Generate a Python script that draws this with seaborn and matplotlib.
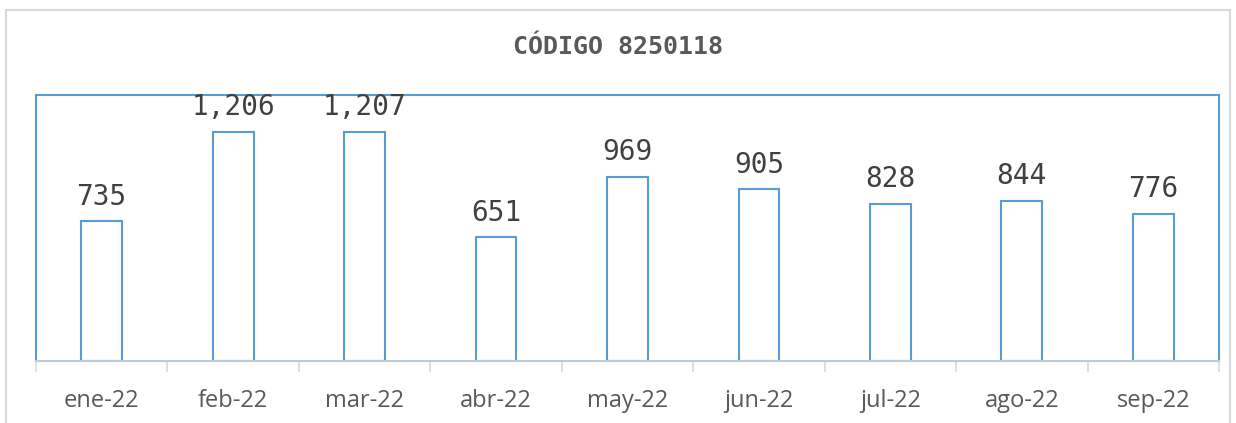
import matplotlib.pyplot as plt
import matplotlib.patches as mpatches
import numpy as np
import pandas as pd
import seaborn as sns

months = ["ene-22", "feb-22", "mar-22", "abr-22", "may-22",
          "jun-22", "jul-22", "ago-22", "sep-22"]
values = [735, 1206, 1207, 651, 969, 905, 828, 844, 776]
title = "CÓDIGO 8250118"

blue = "#5B9BD5"
text_gray = "#595959"

sns.set_style("white")
fig = plt.figure(figsize=(12.36, 4.23), dpi=100)
ax = fig.add_axes([36 / 1236, 1 - 361 / 423, (1219 - 36) / 1236, (361 - 95) / 423])

# outer chart border
fig.patches.append(mpatches.Rectangle((6 / 1236, -0.05), (1230 - 6) / 1236, 1 - 10 / 423 + 0.05,
                                      transform=fig.transFigure, fill=False,
                                      edgecolor="#D9D9D9", linewidth=1.5))

df = pd.DataFrame({"mes": months, "valor": values})
sns.barplot(data=df, x="mes", y="valor", color="white", edgecolor=blue,
            linewidth=1.5, width=0.31, ax=ax, saturation=1)

for i, v in enumerate(values):
    ax.text(i, v + 55, f"{v:,}", ha="center", va="bottom",
            fontsize=20, color="#404040", family="DejaVu Sans Mono")

ax.set_xlim(-0.5, len(months) - 0.5)
ax.set_ylim(0, 1400)
ax.set_yticks([])
ax.set_xlabel("")
ax.set_ylabel("")

ax.set_xticks(np.arange(len(months)))
ax.set_xticklabels(months, fontsize=17, color=text_gray, family="Open Sans")
ax.tick_params(axis="x", which="major", bottom=False, length=0, pad=20)
ax.set_xticks(np.arange(len(months) + 1) - 0.5, minor=True)
ax.tick_params(axis="x", which="minor", bottom=True, length=8, width=1.2,
               color="#D9D9D9")

for s in ["left", "right", "top"]:
    ax.spines[s].set_color(blue)
    ax.spines[s].set_linewidth(1.5)
ax.spines["bottom"].set_color("#BFCBDA")
ax.spines["bottom"].set_linewidth(1.5)

fig.text(0.5, 1 - 47 / 423, title, ha="center", va="center", fontsize=18,
         fontweight="bold", color=text_gray, family="DejaVu Sans Mono")

plt.savefig("out.png", dpi=100)
plt.close()
